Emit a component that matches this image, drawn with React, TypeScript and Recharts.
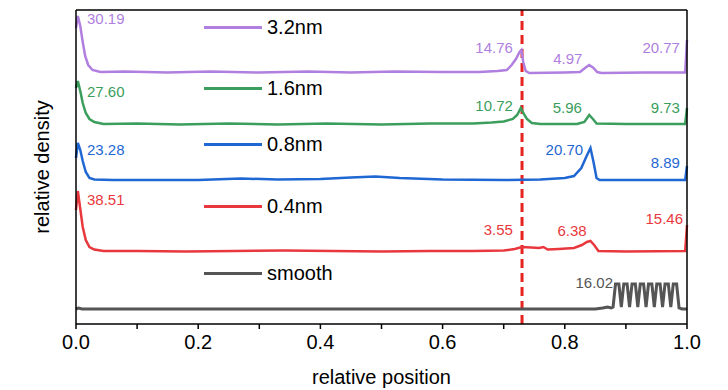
import React from "react"
import {
  Legend,
  Line,
  LineChart,
  ReferenceDot,
  ReferenceLine,
  XAxis,
  YAxis,
} from "recharts"

const FONT = '"Liberation Sans", Arial, sans-serif'

// series names, top to bottom
const names = ["3.2nm", "1.6nm", "0.8nm", "0.4nm", "smooth"]
const colors = ["#b07fdf", "#3b9e5c", "#1f67d2", "#e8383d", "#555555"]

// [relative position, stacked display density]
const purple: [number, number][] = [
  [0, 296], [0.003, 308], [0.007, 298], [0.011, 282], [0.015, 268], [0.02, 259], [0.027, 254],
  [0.04, 252], [0.08, 252.5], [0.15, 251.5], [0.22, 252.5], [0.3, 251.5], [0.38, 252.5],
  [0.45, 251.5], [0.52, 252.5], [0.6, 252], [0.66, 252], [0.69, 253], [0.705, 254], [0.713, 259],
  [0.72, 265], [0.726, 272], [0.729, 274], [0.732, 262], [0.736, 253], [0.742, 251], [0.8, 251.5],
  [0.825, 252], [0.833, 256], [0.84, 259], [0.847, 256], [0.853, 252], [0.86, 251], [0.93, 251.5],
  [0.997, 251.5], [1.0, 284],
]

const green: [number, number][] = [
  [0, 236], [0.003, 243], [0.007, 233], [0.011, 221], [0.016, 211], [0.022, 205], [0.03, 202],
  [0.045, 200], [0.1, 200.5], [0.17, 199.5], [0.25, 200.5], [0.33, 199.5], [0.41, 200.5],
  [0.5, 199.5], [0.58, 200.5], [0.65, 200.5], [0.68, 201.5], [0.7, 202.5], [0.715, 205],
  [0.722, 209], [0.728, 216], [0.732, 211], [0.738, 205], [0.746, 201], [0.76, 200], [0.82, 200],
  [0.832, 202], [0.84, 209], [0.846, 205], [0.852, 200.5], [0.9, 200], [0.997, 200], [1.0, 216],
]

const blue: [number, number][] = [
  [0, 166], [0.003, 181], [0.007, 174], [0.011, 163], [0.016, 152], [0.022, 146], [0.03, 144.5],
  [0.06, 144], [0.12, 144], [0.2, 144], [0.27, 145.5], [0.33, 144.5], [0.4, 145], [0.45, 146.5],
  [0.49, 147.5], [0.53, 146], [0.6, 144.5], [0.7, 144], [0.76, 144.5], [0.8, 146], [0.815, 148],
  [0.827, 156], [0.835, 167], [0.842, 176], [0.847, 162], [0.852, 146], [0.857, 144], [0.9, 144],
  [0.997, 144], [1.0, 158],
]

const red: [number, number][] = [
  [0, 114], [0.003, 133], [0.007, 115], [0.011, 97], [0.016, 84], [0.022, 77], [0.03, 74.5],
  [0.045, 73], [0.1, 73], [0.18, 72.5], [0.26, 73], [0.34, 73.5], [0.42, 73], [0.5, 72.5],
  [0.58, 73], [0.65, 73], [0.7, 73.5], [0.718, 75], [0.73, 77], [0.745, 76.5], [0.758, 76],
  [0.765, 77], [0.772, 74.5], [0.79, 75], [0.815, 76], [0.828, 79], [0.836, 82], [0.842, 83],
  [0.848, 79], [0.855, 73], [0.9, 72.5], [0.997, 73], [1.0, 99],
]

const smooth: [number, number][] = [
  [0, 15], [0.004, 16], [0.01, 15], [0.2, 15], [0.4, 15], [0.6, 15], [0.8, 15], [0.85, 15],
  [0.862, 16], [0.87, 17], [0.876, 16],
  [0.879, 17], [0.883, 40], [0.8885, 40],
  [0.8925, 17], [0.8965, 40], [0.902, 40],
  [0.906, 17], [0.91, 40], [0.9155, 40],
  [0.9195, 17], [0.9235, 40], [0.929, 40],
  [0.933, 17], [0.937, 40], [0.9425, 40],
  [0.9465, 17], [0.9505, 40], [0.956, 40],
  [0.96, 17], [0.964, 40], [0.9695, 40],
  [0.9735, 17], [0.9775, 40], [0.983, 40],
  [0.987, 16], [0.992, 15], [1.0, 15],
]

const series = [purple, green, blue, red, smooth]

// peak value annotations: x, y, text, series index, anchor
const notes: [number, number, string, number, string][] = [
  [0.018, 306, "30.19", 0, "start"],
  [0.715, 277, "14.76", 0, "end"],
  [0.805, 266, "4.97", 0, "middle"],
  [0.9885, 277, "20.77", 0, "end"],
  [0.018, 233, "27.60", 1, "start"],
  [0.715, 219, "10.72", 1, "end"],
  [0.804, 217, "5.96", 1, "middle"],
  [0.9885, 217, "9.73", 1, "end"],
  [0.018, 175, "23.28", 2, "start"],
  [0.83, 175, "20.70", 2, "end"],
  [0.9885, 162, "8.89", 2, "end"],
  [0.018, 125, "38.51", 3, "start"],
  [0.715, 95, "3.55", 3, "end"],
  [0.812, 94, "6.38", 3, "middle"],
  [0.9935, 106, "15.46", 3, "end"],
  [0.879, 42, "16.02", 4, "end"],
]

const xTicks = [0, 0.1, 0.2, 0.3, 0.4, 0.5, 0.6, 0.7, 0.8, 0.9, 1.0]
const legendRows = [27, 88, 144, 206, 273]

const XTick = ({ x, y, payload }: any) => {
  if (Math.round(payload.value * 10) % 2 !== 0) return null
  return (
    <text x={x} y={y} dy={18} textAnchor="middle" fontSize={20} fontFamily={FONT} fill="#000">
      {payload.value.toFixed(1)}
    </text>
  )
}

const LegendBox = ({ payload }: any) => (
  <div style={{ position: "relative", width: 728, height: 390 }}>
    {names.map((name, i) => {
      const entry = (payload || []).find((p: any) => p.value === name)
      return (
        <div
          key={name}
          style={{
            position: "absolute",
            left: 204,
            top: legendRows[i] - 12,
            height: 24,
            display: "flex",
            alignItems: "center",
            fontFamily: FONT,
            fontSize: 20,
            color: "#000",
          }}
        >
          <span style={{ width: 58, height: 3, background: entry ? entry.color : colors[i], marginRight: 5 }} />
          {name}
        </div>
      )
    })}
  </div>
)

export default function App() {
  return (
    <div style={{ position: "absolute", left: 0, top: 0, width: 728, height: 390, background: "#fff" }}>
      <LineChart width={728} height={390} margin={{ top: 9, right: 40, bottom: 0, left: 0 }}>
        <XAxis
          type="number"
          dataKey="x"
          domain={[0, 1]}
          ticks={xTicks}
          interval={0}
          height={66}
          tickSize={5}
          tickMargin={2}
          tick={<XTick />}
          stroke="#000"
          strokeWidth={1.5}
          label={{
            value: "relative position",
            position: "insideBottom",
            offset: 6,
            fontSize: 20,
            fontFamily: FONT,
            fill: "#000",
          }}
        />
        <XAxis xAxisId="top" type="number" orientation="top" domain={[0, 1]} height={1} tick={false} tickLine={false} stroke="#000" strokeWidth={1.5} />
        <YAxis
          type="number"
          domain={[0, 314]}
          width={76}
          tick={false}
          tickLine={false}
          stroke="#000"
          strokeWidth={1.5}
          label={{
            value: "relative density",
            angle: -90,
            position: "center",
            dx: 4,
            fontSize: 20,
            fontFamily: FONT,
            fill: "#000",
          }}
        />
        <YAxis yAxisId="right" orientation="right" type="number" domain={[0, 314]} width={1} tick={false} tickLine={false} stroke="#000" strokeWidth={1.5} />
        <ReferenceLine x={0.73} stroke="#e5231f" strokeWidth={3} strokeDasharray="9 5" />
        {series.map((pts, i) => (
          <Line
            key={names[i]}
            name={names[i]}
            data={pts.map(([x, y]) => ({ x, y }))}
            dataKey="y"
            type="linear"
            stroke={colors[i]}
            strokeWidth={i === 4 ? 3 : 2.5}
            dot={false}
            isAnimationActive={false}
          />
        ))}
        {notes.map(([x, y, text, s, anchor]) => (
          <ReferenceDot
            key={text}
            x={x}
            y={y}
            r={0}
            shape={(p: any) => (
              <text
                x={p.cx}
                y={p.cy}
                textAnchor={anchor as any}
                dominantBaseline="central"
                fontSize={15}
                fontFamily={FONT}
                fill={colors[s]}
              >
                {text}
              </text>
            )}
          />
        ))}
        <Legend
          layout="vertical"
          align="center"
          verticalAlign="middle"
          content={<LegendBox />}
          wrapperStyle={{ left: 0, top: 0, width: 728, height: 390, pointerEvents: "none" }}
        />
      </LineChart>
    </div>
  )
}
